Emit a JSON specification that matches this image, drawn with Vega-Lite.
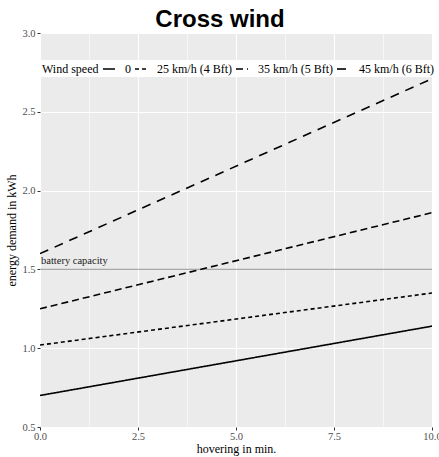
{
  "$schema": "https://vega.github.io/schema/vega-lite/v6.json",
  "width": 392,
  "height": 394,
  "autosize": {"type": "none"},
  "padding": {"left": 40, "top": 33, "right": 7, "bottom": 30},
  "background": "white",
  "title": {
    "text": "Cross wind",
    "font": "Liberation Sans",
    "fontSize": 24,
    "fontWeight": "bold",
    "color": "black",
    "anchor": "middle",
    "frame": "group",
    "dx": -16,
    "offset": -4
  },
  "config": {
    "view": {"fill": "#EBEBEB", "stroke": null},
    "axis": {
      "domain": false,
      "labelFont": "Liberation Serif",
      "labelFontSize": 10.5,
      "labelColor": "#4D4D4D",
      "titleFont": "Liberation Serif",
      "titleFontSize": 12,
      "titleFontWeight": "normal",
      "titleColor": "black",
      "tickColor": "#333333",
      "tickSize": 3,
      "gridColor": "white"
    }
  },
  "datasets": {
    "lines": [
      {"wind": "0", "x": 0, "y": 0.70},
      {"wind": "0", "x": 10, "y": 1.14},
      {"wind": "25 km/h (4 Bft)", "x": 0, "y": 1.02},
      {"wind": "25 km/h (4 Bft)", "x": 10, "y": 1.35},
      {"wind": "35 km/h (5 Bft)", "x": 0, "y": 1.25},
      {"wind": "35 km/h (5 Bft)", "x": 10, "y": 1.86},
      {"wind": "45 km/h (6 Bft)", "x": 0, "y": 1.60},
      {"wind": "45 km/h (6 Bft)", "x": 10, "y": 2.71}
    ],
    "battery": [{"x": 0, "y": 1.5, "label": "battery capacity"}]
  },
  "layer": [
    {
      "data": {"name": "battery"},
      "mark": {"type": "rule", "color": "#A8A8A8", "strokeWidth": 1.4},
      "encoding": {
        "y": {"field": "y", "type": "quantitative"}
      }
    },
    {
      "data": {"name": "battery"},
      "mark": {"type": "text", "align": "left", "baseline": "alphabetic", "dx": 1, "dy": -5, "font": "Liberation Serif", "fontSize": 10.5, "color": "#1A1A1A"},
      "encoding": {
        "x": {"field": "x", "type": "quantitative"},
        "y": {"field": "y", "type": "quantitative"},
        "text": {"field": "label"}
      }
    },
    {
      "data": {"name": "lines"},
      "mark": {"type": "line", "color": "black", "strokeWidth": 1.6, "clip": true},
      "encoding": {
        "x": {
          "field": "x",
          "type": "quantitative",
          "scale": {"domain": [0, 10], "nice": false, "zero": false},
          "axis": {
            "title": "hovering in min.",
            "values": [0, 1.25, 2.5, 3.75, 5, 6.25, 7.5, 8.75, 10],
            "labelExpr": "(round(datum.value*100) % 250 == 0) ? format(datum.value, '.1f') : ''",
            "tickOpacity": {"condition": {"test": "round(datum.value*100) % 250 == 0", "value": 1}, "value": 0},
            "gridWidth": {"condition": {"test": "round(datum.value*100) % 250 == 0", "value": 1.1}, "value": 0.55},
            "labelPadding": 1,
            "titlePadding": 2,
            "labelFlush": false
          }
        },
        "y": {
          "field": "y",
          "type": "quantitative",
          "scale": {"domain": [0.5, 3.0], "nice": false, "zero": false},
          "axis": {
            "title": "energy demand in kWh",
            "values": [0.5, 0.75, 1, 1.25, 1.5, 1.75, 2, 2.25, 2.5, 2.75, 3],
            "labelExpr": "(round(datum.value*100) % 50 == 0) ? format(datum.value, '.1f') : ''",
            "tickOpacity": {"condition": {"test": "round(datum.value*100) % 50 == 0", "value": 1}, "value": 0},
            "gridWidth": {"condition": {"test": "round(datum.value*100) % 50 == 0", "value": 1.1}, "value": 0.55},
            "labelPadding": 2,
            "titlePadding": 3,
            "labelFlush": false
          }
        },
        "strokeDash": {
          "field": "wind",
          "type": "nominal",
          "scale": {
            "domain": ["0", "25 km/h (4 Bft)", "35 km/h (5 Bft)", "45 km/h (6 Bft)"],
            "range": [[1, 0], [4, 3], [7, 4], [9, 7]]
          },
          "legend": {
            "title": "Wind speed",
            "orient": "none",
            "legendX": 0,
            "legendY": 27,
            "direction": "horizontal",
            "titleOrient": "left",
            "titleAnchor": "middle",
            "titleBaseline": "middle",
            "titleFont": "Liberation Serif",
            "titleFontSize": 12,
            "titleFontWeight": "normal",
            "titleColor": "black",
            "titlePadding": 3,
            "labelFont": "Liberation Serif",
            "labelFontSize": 12,
            "labelColor": "black",
            "labelOffset": 9,
            "columnPadding": 0,
            "symbolType": "stroke",
            "symbolSize": 144,
            "symbolStrokeWidth": 1.6,
            "symbolStrokeColor": "black",
            "fillColor": "white",
            "padding": 2
          }
        }
      }
    }
  ]
}
